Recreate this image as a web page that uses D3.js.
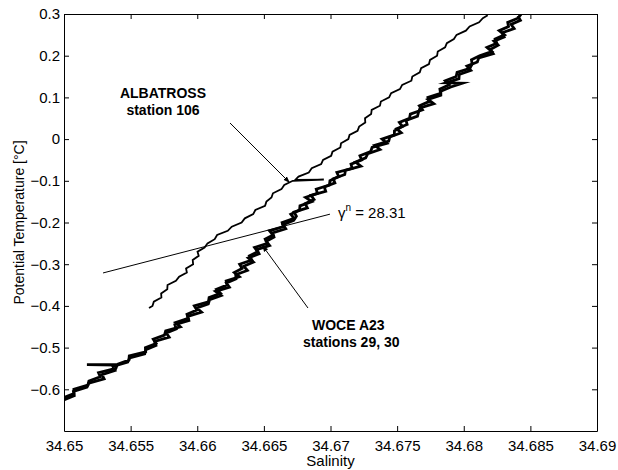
<!DOCTYPE html>
<html>
<head>
<meta charset="utf-8">
<script src="https://cdn.jsdelivr.net/npm/d3@7"></script>
<style>
  body { margin: 0; background: #fff; }
  svg { display: block; }
  text { font-family: "Liberation Sans", Arial, Helvetica, sans-serif; fill: #000; }
</style>
</head>
<body>
<svg id="chart" width="618" height="470"></svg>
<script>
// axis ticks
const xTicks = [34.65, 34.655, 34.66, 34.665, 34.67, 34.675, 34.68, 34.685, 34.69];
const yTicks = [-0.6, -0.5, -0.4, -0.3, -0.2, -0.1, 0, 0.1, 0.2, 0.3];

// ALBATROSS station 106 (potential temperature, salinity)
const albatrossTemp = [-0.405, -0.40, -0.39, -0.38, -0.37, -0.36, -0.35, -0.34, -0.33, -0.32,
  -0.31, -0.30, -0.29, -0.28, -0.27, -0.26, -0.25, -0.24, -0.23, -0.22,
  -0.21, -0.20, -0.19, -0.18, -0.17, -0.16, -0.15, -0.14, -0.13, -0.12,
  -0.11, -0.10, -0.097, -0.098,
  -0.09, -0.08, -0.07, -0.06, -0.05, -0.04, -0.03, -0.02, -0.01, 0.00,
  0.01, 0.02, 0.03, 0.04, 0.05, 0.06, 0.07, 0.08, 0.09, 0.10,
  0.11, 0.12, 0.13, 0.14, 0.15, 0.16, 0.17, 0.18, 0.19, 0.20,
  0.21, 0.22, 0.23, 0.24, 0.25, 0.26, 0.27, 0.28, 0.29, 0.297];
const albatrossSal = [34.65638, 34.65664, 34.65674, 34.65731, 34.65729, 34.65775, 34.65777, 34.65840, 34.65864, 34.65922,
  34.65916, 34.65969, 34.65966, 34.66011, 34.66002, 34.66055, 34.66077, 34.66131, 34.66149, 34.66229,
  34.66259, 34.66333, 34.66357, 34.66420, 34.66436, 34.66509, 34.66519, 34.66557, 34.66568, 34.66632,
  34.66653, 34.66717, 34.66950, 34.66735,
  34.66760, 34.66837, 34.66859, 34.66930, 34.66944, 34.67005, 34.67015, 34.67074, 34.67079, 34.67134,
  34.67143, 34.67203, 34.67215, 34.67261, 34.67259, 34.67305, 34.67309, 34.67371, 34.67378, 34.67440,
  34.67455, 34.67521, 34.67538, 34.67607, 34.67614, 34.67670, 34.67680, 34.67739, 34.67747, 34.67800,
  34.67805, 34.67860, 34.67873, 34.67926, 34.67946, 34.68016, 34.68044, 34.68115, 34.68143, 34.68180];

// WOCE A23 station 29
const woce29Temp = [0.299,
  0.29, 0.28, 0.27, 0.26, 0.25, 0.24, 0.23, 0.22, 0.21, 0.20,
  0.19, 0.18, 0.17, 0.16, 0.15, 0.14, 0.13, 0.12, 0.11, 0.10,
  0.09, 0.08, 0.07, 0.06, 0.05, 0.04, 0.03, 0.02, 0.01, 0.00,
  -0.01, -0.02, -0.03, -0.04, -0.05, -0.06, -0.07, -0.08, -0.09, -0.10,
  -0.11, -0.12, -0.13, -0.14, -0.15, -0.16, -0.17, -0.18, -0.19, -0.20,
  -0.21, -0.22, -0.23, -0.24, -0.25, -0.26, -0.27, -0.28, -0.29, -0.30,
  -0.31, -0.32, -0.33, -0.34, -0.35, -0.36, -0.37, -0.38, -0.39, -0.40,
  -0.41, -0.42, -0.43, -0.44, -0.45, -0.46, -0.47, -0.48, -0.49, -0.50,
  -0.51, -0.52, -0.53, -0.54, -0.541, -0.542,
  -0.55, -0.56, -0.57, -0.58, -0.59, -0.60, -0.61, -0.62, -0.63];
const woce29Sal = [34.68430,
  34.68406, 34.68330, 34.68336, 34.68266, 34.68306, 34.68236, 34.68248, 34.68174, 34.68210, 34.68119,
  34.68058, 34.68063, 34.68047, 34.67950, 34.67943, 34.67861, 34.67891, 34.67821, 34.67826, 34.67731,
  34.67739, 34.67667, 34.67690, 34.67599, 34.67593, 34.67517, 34.67540, 34.67480, 34.67479, 34.67387,
  34.67423, 34.67312, 34.67301, 34.67221, 34.67234, 34.67154, 34.67163, 34.67048, 34.67062, 34.66996,
  34.66992, 34.66893, 34.66902, 34.66813, 34.66860, 34.66771, 34.66768, 34.66702, 34.66727, 34.66637,
  34.66647, 34.66542, 34.66569, 34.66510, 34.66527, 34.66430, 34.66453, 34.66392, 34.66410, 34.66318,
  34.66336, 34.66278, 34.66316, 34.66217, 34.66223, 34.66145, 34.66175, 34.66089, 34.66084, 34.65978,
  34.65997, 34.65923, 34.65932, 34.65838, 34.65873, 34.65763, 34.65754, 34.65670, 34.65691, 34.65611,
  34.65613, 34.65490, 34.65487, 34.65401, 34.65172, 34.65398,
  34.65389, 34.65259, 34.65272, 34.65187, 34.65179, 34.65074, 34.65075, 34.64996, 34.64976];

// WOCE A23 station 30
const woce30Temp = [0.295, 0.285, 0.275, 0.265, 0.255, 0.245, 0.235, 0.225, 0.215, 0.205,
  0.195, 0.185, 0.175, 0.165, 0.155, 0.145, 0.135, 0.134, 0.125, 0.115, 0.105,
  0.095, 0.085, 0.075, 0.065, 0.055, 0.045, 0.035, 0.025, 0.015, 0.005,
  -0.005, -0.015, -0.025, -0.035, -0.045, -0.055, -0.065, -0.075, -0.085, -0.095,
  -0.105, -0.115, -0.125, -0.135, -0.145, -0.155, -0.165, -0.175, -0.185, -0.195,
  -0.205, -0.215, -0.225, -0.235, -0.245, -0.255, -0.265, -0.275, -0.285, -0.295,
  -0.305, -0.315, -0.325, -0.335, -0.345, -0.355, -0.365, -0.375, -0.385, -0.395,
  -0.405, -0.415, -0.425, -0.435, -0.445, -0.455, -0.465, -0.475, -0.485, -0.495,
  -0.505, -0.515, -0.525, -0.535, -0.545, -0.555, -0.565, -0.575, -0.585, -0.595,
  -0.605, -0.615, -0.625];
const woce30Sal = [34.68406, 34.68425, 34.68355, 34.68378, 34.68288, 34.68303, 34.68226, 34.68258, 34.68199, 34.68221,
  34.68113, 34.68102, 34.68024, 34.68053, 34.67966, 34.67964, 34.67868, 34.67990, 34.67903, 34.67828, 34.67828,
  34.67732, 34.67775, 34.67673, 34.67661, 34.67653, 34.67567, 34.67575, 34.67497, 34.67531, 34.67445,
  34.67437, 34.67332, 34.67371, 34.67280, 34.67264, 34.67188, 34.67228, 34.67112, 34.67107, 34.67021,
  34.67033, 34.66954, 34.66964, 34.66854, 34.66876, 34.66810, 34.66826, 34.66727, 34.66744, 34.66724,
  34.66644, 34.66664, 34.66565, 34.66576, 34.66518, 34.66543, 34.66446, 34.66464, 34.66383, 34.66421,
  34.66349, 34.66376, 34.66289, 34.66291, 34.66219, 34.66241, 34.66137, 34.66179, 34.66093, 34.66083,
  34.65997, 34.66032, 34.65929, 34.65937, 34.65832, 34.65842, 34.65768, 34.65789, 34.65680, 34.65690,
  34.65614, 34.65606, 34.65493, 34.65478, 34.65367, 34.65383, 34.65285, 34.65301, 34.65187, 34.65173,
  34.65071, 34.65077, 34.65003];

// neutral density isopycnal gamma^n = 28.31
const isoSal = [34.65293, 34.66996];
const isoTemp = [-0.321, -0.180];

const margin = { left: 64, right: 21, top: 14, bottom: 39 };
const size = { width: 618, height: 470 };

const svg = d3.select('#chart');

const xScale = d3.scaleLinear()
  .domain([34.65, 34.69])
  .range([margin.left, size.width - margin.right]);

const yScale = d3.scaleLinear()
  .domain([-0.7, 0.3])
  .range([size.height - margin.bottom, margin.top]);

svg.append('defs').append('clipPath').attr('id', 'plot-clip')
  .append('rect')
  .attr('x', margin.left).attr('y', margin.top)
  .attr('width', size.width - margin.left - margin.right)
  .attr('height', size.height - margin.top - margin.bottom);

svg.select('defs').append('marker')
  .attr('id', 'arrow')
  .attr('viewBox', '0 0 10 10')
  .attr('refX', 10).attr('refY', 5)
  .attr('markerWidth', 7).attr('markerHeight', 7)
  .attr('markerUnits', 'userSpaceOnUse')
  .attr('orient', 'auto')
  .append('path')
  .attr('d', 'M0,1.5 L10,5 L0,8.5 Z')
  .attr('fill', '#000');

const line = d3.line()
  .x(d => xScale(d[0]))
  .y(d => yScale(d[1]));

const plot = svg.append('g').attr('clip-path', 'url(#plot-clip)');

// profiles
const series = [
  { sal: albatrossSal, temp: albatrossTemp, width: 1.8 },
  { sal: woce29Sal, temp: woce29Temp, width: 2.8 },
  { sal: woce30Sal, temp: woce30Temp, width: 2.8 }
];
series.forEach(s => {
  plot.append('path')
    .datum(d3.zip(s.sal, s.temp))
    .attr('d', line)
    .attr('fill', 'none')
    .attr('stroke', '#000')
    .attr('stroke-width', s.width)
    .attr('stroke-linejoin', 'miter')
    .attr('stroke-miterlimit', 6);
});

// isopycnal line
plot.append('path')
  .datum(d3.zip(isoSal, isoTemp))
  .attr('d', line)
  .attr('fill', 'none')
  .attr('stroke', '#000')
  .attr('stroke-width', 1);

// axes (ticks point inward on all four sides)
const fmt = d => d3.format('')(d).replace('-', '\u2212');

svg.append('g')
  .attr('transform', `translate(0, ${size.height - margin.bottom})`)
  .call(d3.axisBottom(xScale).tickValues(xTicks).tickSizeInner(-5).tickSizeOuter(0).tickPadding(9).tickFormat(d3.format('')))
  .call(g => g.selectAll('text').style('font-size', '15px'));

svg.append('g')
  .attr('transform', `translate(0, ${margin.top})`)
  .call(d3.axisTop(xScale).tickValues(xTicks).tickSizeInner(-5).tickSizeOuter(0).tickFormat(''));

svg.append('g')
  .attr('transform', `translate(${margin.left}, 0)`)
  .call(d3.axisLeft(yScale).tickValues(yTicks).tickSizeInner(-5).tickSizeOuter(0).tickPadding(4).tickFormat(fmt))
  .call(g => g.selectAll('text').style('font-size', '15px'));

svg.append('g')
  .attr('transform', `translate(${size.width - margin.right}, 0)`)
  .call(d3.axisRight(yScale).tickValues(yTicks).tickSizeInner(-5).tickSizeOuter(0).tickFormat(''));

svg.selectAll('.domain, .tick line').attr('stroke', '#000').attr('stroke-width', 1);
svg.selectAll('.tick text').style('font-family', '"Liberation Sans", Arial, sans-serif');

// axis labels
svg.append('text')
  .attr('text-anchor', 'middle')
  .attr('x', (margin.left + size.width - margin.right) / 2)
  .attr('y', 466)
  .style('font-size', '15px')
  .text('Salinity');

svg.append('text')
  .attr('text-anchor', 'middle')
  .attr('transform', `translate(24, ${(margin.top + size.height - margin.bottom) / 2}) rotate(-90)`)
  .style('font-size', '14px')
  .text('Potential Temperature [°C]');

// annotations
svg.append('text')
  .attr('text-anchor', 'middle')
  .attr('x', xScale(34.65743)).attr('y', yScale(0.0986))
  .style('font-size', '14px').style('font-weight', 'bold')
  .text('ALBATROSS');
svg.append('text')
  .attr('text-anchor', 'middle')
  .attr('x', xScale(34.65743)).attr('y', yScale(0.0578))
  .style('font-size', '14px').style('font-weight', 'bold')
  .text('station 106');

svg.append('line')
  .attr('x1', xScale(34.66246)).attr('y1', yScale(0.0386))
  .attr('x2', xScale(34.66696)).attr('y2', yScale(-0.1053))
  .attr('stroke', '#000').attr('stroke-width', 1)
  .attr('marker-end', 'url(#arrow)');

svg.append('text')
  .attr('x', xScale(34.66861)).attr('y', yScale(-0.4578))
  .style('font-size', '14px').style('font-weight', 'bold')
  .text('WOCE A23');
svg.append('text')
  .attr('x', xScale(34.66794)).attr('y', yScale(-0.4986))
  .style('font-size', '14px').style('font-weight', 'bold')
  .text('stations 29, 30');

svg.append('line')
  .attr('x1', xScale(34.66831)).attr('y1', yScale(-0.405))
  .attr('x2', xScale(34.66486)).attr('y2', yScale(-0.254))
  .attr('stroke', '#000').attr('stroke-width', 1)
  .attr('marker-end', 'url(#arrow)');

const gam = svg.append('text')
  .attr('x', xScale(34.67056)).attr('y', yScale(-0.1892))
  .style('font-size', '15px');
gam.append('tspan').text('\u03B3');
gam.append('tspan').attr('dy', -7).style('font-size', '10px').text('n');
gam.append('tspan').attr('dy', 7).text(' = 28.31');
</script>
</body>
</html>
